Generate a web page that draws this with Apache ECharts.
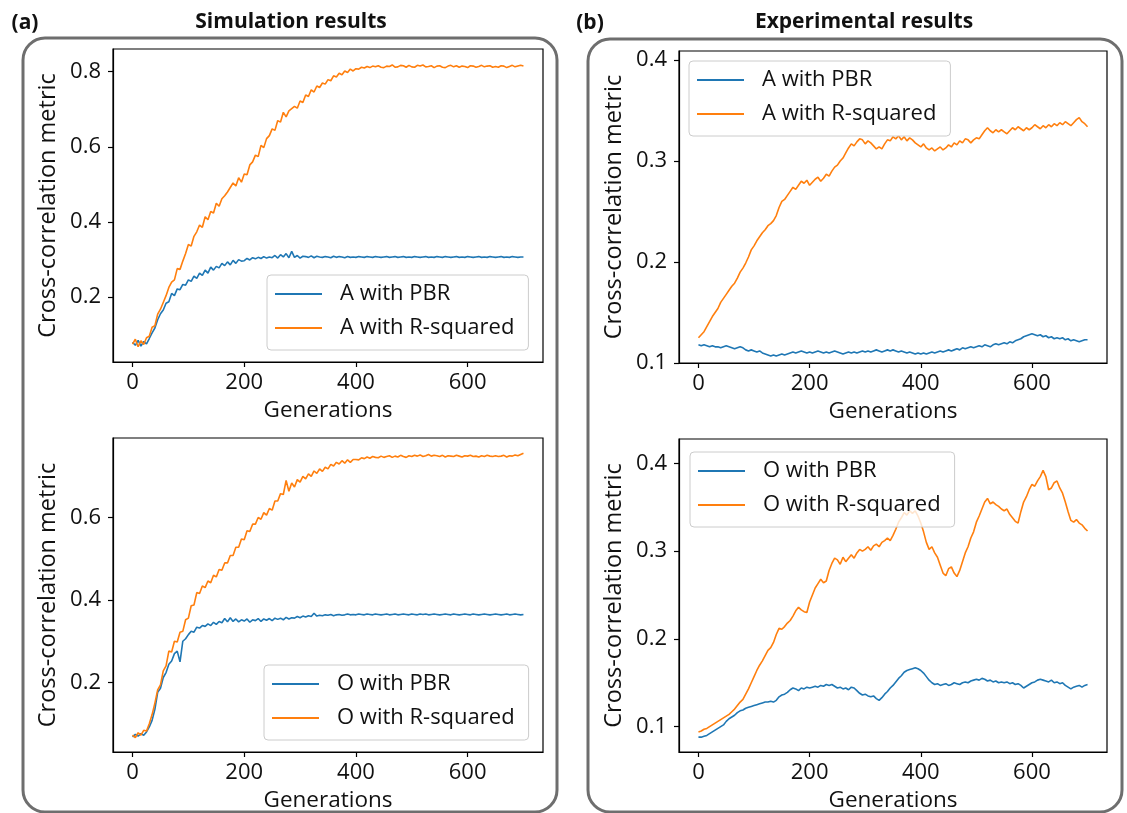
<!DOCTYPE html>
<html>
<head>
<meta charset="utf-8">
<script src="https://cdn.jsdelivr.net/npm/echarts@6/dist/echarts.min.js"></script>
<style>
  html, body { margin: 0; padding: 0; background: #ffffff; }
  #chart { width: 1127px; height: 813px; }
</style>
</head>
<body>
<div id="chart"></div>
<script>
// Generation index shared by every curve (sampled every 5 generations)
const GENERATIONS = [
  0,5,10,15,20,25,30,35,40,45, 50,55,60,65,70,75,80,85,90,95,
  100,105,110,115,120,125,130,135,140,145, 150,155,160,165,170,175,180,185,190,195,
  200,205,210,215,220,225,230,235,240,245, 250,255,260,265,270,275,280,285,290,295,
  300,305,310,315,320,325,330,335,340,345, 350,355,360,365,370,375,380,385,390,395,
  400,405,410,415,420,425,430,435,440,445, 450,455,460,465,470,475,480,485,490,495,
  500,505,510,515,520,525,530,535,540,545, 550,555,560,565,570,575,580,585,590,595,
  600,605,610,615,620,625,630,635,640,645, 650,655,660,665,670,675,680,685,690,695,
  700
];
const X_TICKS = [0, 200, 400, 600];

// (a) Simulation, trait A
const SIM_A_PBR = [
  0.080,0.072,0.085,0.070,0.082,0.076,0.090,0.105,0.118,0.140,
  0.156,0.166,0.184,0.188,0.210,0.204,0.222,0.220,0.234,0.232,
  0.246,0.242,0.256,0.250,0.264,0.258,0.272,0.264,0.280,0.272,
  0.282,0.278,0.290,0.284,0.294,0.286,0.298,0.290,0.300,0.296,
  0.297,0.303,0.299,0.305,0.302,0.306,0.303,0.308,0.304,0.307,
  0.305,0.311,0.304,0.313,0.307,0.316,0.305,0.322,0.306,0.311,
  0.304,0.309,0.308,0.306,0.310,0.305,0.309,0.307,0.306,0.308,
  0.307,0.305,0.309,0.306,0.308,0.307,0.305,0.308,0.306,0.307,
  0.306,0.308,0.307,0.306,0.308,0.307,0.306,0.308,0.307,0.306,
  0.307,0.308,0.306,0.307,0.308,0.306,0.307,0.308,0.306,0.307,
  0.306,0.308,0.307,0.306,0.307,0.308,0.306,0.307,0.306,0.308,
  0.307,0.306,0.308,0.307,0.306,0.307,0.308,0.306,0.307,0.306,
  0.308,0.307,0.306,0.307,0.308,0.306,0.307,0.306,0.308,0.307,
  0.306,0.307,0.308,0.306,0.307,0.306,0.308,0.307,0.306,0.307,
  0.307
];
const SIM_A_RSQ = [
  0.075,0.088,0.068,0.084,0.074,0.092,0.096,0.120,0.124,0.155,
  0.168,0.186,0.204,0.226,0.240,0.246,0.276,0.274,0.296,0.316,
  0.340,0.336,0.362,0.374,0.392,0.386,0.414,0.406,0.428,0.424,
  0.450,0.442,0.462,0.470,0.480,0.492,0.504,0.496,0.518,0.506,
  0.528,0.526,0.552,0.560,0.578,0.574,0.604,0.598,0.622,0.630,
  0.648,0.644,0.670,0.666,0.692,0.680,0.696,0.702,0.708,0.703,
  0.722,0.718,0.738,0.734,0.752,0.746,0.762,0.758,0.770,0.767,
  0.779,0.776,0.789,0.786,0.796,0.792,0.802,0.798,0.807,0.802,
  0.808,0.807,0.812,0.810,0.814,0.811,0.815,0.813,0.816,0.812,
  0.811,0.815,0.814,0.818,0.812,0.813,0.817,0.816,0.812,0.817,
  0.813,0.812,0.817,0.815,0.818,0.813,0.814,0.816,0.811,0.815,
  0.816,0.812,0.811,0.815,0.817,0.813,0.816,0.812,0.815,0.814,
  0.811,0.816,0.815,0.812,0.814,0.817,0.813,0.815,0.816,0.812,
  0.814,0.812,0.816,0.815,0.811,0.814,0.817,0.813,0.815,0.817,
  0.815
];

// (a) Simulation, trait O
const SIM_O_PBR = [
  0.068,0.074,0.070,0.076,0.072,0.080,0.092,0.108,0.135,0.176,
  0.186,0.212,0.224,0.244,0.252,0.270,0.276,0.250,0.300,0.306,
  0.316,0.324,0.322,0.334,0.332,0.338,0.336,0.342,0.338,0.346,
  0.341,0.348,0.345,0.355,0.347,0.357,0.348,0.354,0.347,0.352,
  0.349,0.354,0.346,0.352,0.350,0.355,0.348,0.354,0.351,0.355,
  0.350,0.356,0.353,0.356,0.352,0.358,0.354,0.357,0.356,0.360,
  0.357,0.361,0.359,0.362,0.360,0.368,0.361,0.363,0.362,0.364,
  0.363,0.365,0.362,0.364,0.365,0.363,0.364,0.366,0.364,0.365,
  0.364,0.366,0.365,0.364,0.366,0.365,0.364,0.366,0.365,0.364,
  0.365,0.366,0.364,0.365,0.366,0.364,0.365,0.366,0.365,0.364,
  0.366,0.365,0.364,0.366,0.365,0.366,0.364,0.365,0.366,0.365,
  0.364,0.365,0.366,0.365,0.364,0.366,0.365,0.364,0.365,0.366,
  0.365,0.364,0.366,0.365,0.364,0.365,0.366,0.365,0.364,0.365,
  0.366,0.365,0.364,0.365,0.366,0.364,0.365,0.366,0.365,0.364,
  0.365
];
const SIM_O_RSQ = [
  0.072,0.066,0.078,0.072,0.084,0.082,0.100,0.122,0.150,0.182,
  0.194,0.228,0.240,0.276,0.274,0.300,0.298,0.322,0.324,0.352,
  0.356,0.386,0.388,0.418,0.416,0.434,0.430,0.446,0.442,0.460,
  0.456,0.474,0.472,0.490,0.490,0.508,0.508,0.528,0.528,0.548,
  0.546,0.568,0.566,0.584,0.584,0.600,0.596,0.612,0.606,0.622,
  0.618,0.640,0.640,0.658,0.656,0.690,0.664,0.684,0.674,0.692,
  0.686,0.700,0.694,0.706,0.700,0.713,0.707,0.718,0.712,0.722,
  0.718,0.729,0.725,0.734,0.730,0.738,0.732,0.740,0.734,0.741,
  0.741,0.740,0.745,0.743,0.747,0.744,0.748,0.746,0.745,0.749,
  0.746,0.748,0.750,0.746,0.749,0.747,0.751,0.748,0.746,0.750,
  0.748,0.751,0.749,0.752,0.748,0.750,0.753,0.749,0.751,0.750,
  0.748,0.751,0.747,0.750,0.749,0.748,0.751,0.749,0.747,0.750,
  0.749,0.751,0.748,0.749,0.747,0.750,0.748,0.751,0.749,0.748,
  0.750,0.748,0.749,0.751,0.747,0.750,0.749,0.752,0.750,0.753,
  0.756
];

// (b) Experiment, trait A
const EXP_A_PBR = [
  0.118,0.117,0.118,0.117,0.116,0.117,0.116,0.116,0.115,0.116,
  0.117,0.116,0.115,0.114,0.115,0.116,0.115,0.113,0.112,0.113,
  0.112,0.111,0.112,0.110,0.109,0.108,0.107,0.108,0.107,0.108,
  0.109,0.108,0.109,0.110,0.111,0.110,0.111,0.112,0.111,0.110,
  0.111,0.110,0.111,0.112,0.111,0.110,0.111,0.110,0.111,0.112,
  0.111,0.110,0.109,0.110,0.111,0.110,0.111,0.110,0.111,0.112,
  0.111,0.112,0.111,0.112,0.113,0.112,0.111,0.112,0.113,0.112,
  0.113,0.112,0.111,0.112,0.111,0.110,0.111,0.110,0.109,0.110,
  0.109,0.110,0.109,0.110,0.111,0.110,0.111,0.112,0.111,0.112,
  0.113,0.112,0.113,0.114,0.113,0.115,0.114,0.115,0.116,0.115,
  0.116,0.117,0.116,0.118,0.117,0.116,0.118,0.119,0.118,0.119,
  0.120,0.119,0.121,0.120,0.122,0.123,0.124,0.126,0.127,0.128,
  0.129,0.128,0.127,0.128,0.126,0.127,0.125,0.126,0.124,0.125,
  0.124,0.125,0.123,0.124,0.122,0.123,0.122,0.121,0.122,0.123,
  0.123
];
const EXP_A_RSQ = [
  0.125,0.128,0.131,0.136,0.141,0.146,0.150,0.154,0.160,0.164,
  0.168,0.172,0.176,0.179,0.184,0.190,0.194,0.199,0.205,0.212,
  0.216,0.221,0.225,0.229,0.232,0.236,0.238,0.241,0.246,0.254,
  0.260,0.262,0.266,0.270,0.274,0.272,0.276,0.280,0.278,0.281,
  0.276,0.279,0.282,0.284,0.280,0.283,0.287,0.285,0.290,0.294,
  0.296,0.300,0.303,0.308,0.313,0.317,0.315,0.319,0.322,0.321,
  0.317,0.320,0.318,0.315,0.312,0.314,0.312,0.317,0.321,0.320,
  0.324,0.322,0.325,0.321,0.324,0.320,0.323,0.321,0.318,0.316,
  0.314,0.317,0.313,0.311,0.313,0.310,0.312,0.314,0.311,0.313,
  0.316,0.314,0.318,0.316,0.320,0.318,0.322,0.321,0.318,0.321,
  0.323,0.322,0.326,0.330,0.333,0.330,0.328,0.331,0.329,0.331,
  0.329,0.327,0.330,0.333,0.331,0.334,0.332,0.330,0.333,0.331,
  0.333,0.336,0.334,0.332,0.335,0.333,0.336,0.334,0.337,0.335,
  0.338,0.336,0.339,0.337,0.335,0.338,0.341,0.343,0.339,0.337,
  0.334
];

// (b) Experiment, trait O
const EXP_O_PBR = [
  0.088,0.088,0.089,0.090,0.092,0.094,0.096,0.098,0.100,0.102,
  0.106,0.109,0.111,0.113,0.116,0.118,0.119,0.121,0.122,0.123,
  0.124,0.125,0.126,0.127,0.128,0.128,0.129,0.128,0.130,0.134,
  0.136,0.137,0.139,0.142,0.144,0.143,0.141,0.144,0.143,0.145,
  0.144,0.145,0.146,0.145,0.147,0.146,0.148,0.147,0.148,0.146,
  0.144,0.145,0.143,0.144,0.142,0.145,0.144,0.141,0.138,0.136,
  0.137,0.135,0.134,0.135,0.132,0.130,0.133,0.137,0.140,0.144,
  0.147,0.151,0.155,0.158,0.162,0.164,0.165,0.166,0.167,0.166,
  0.164,0.161,0.157,0.153,0.150,0.148,0.149,0.147,0.148,0.149,
  0.147,0.148,0.150,0.149,0.148,0.150,0.151,0.150,0.152,0.153,
  0.154,0.153,0.155,0.154,0.152,0.153,0.151,0.152,0.150,0.151,
  0.150,0.151,0.149,0.150,0.148,0.149,0.147,0.144,0.146,0.148,
  0.150,0.151,0.153,0.154,0.153,0.152,0.151,0.153,0.150,0.151,
  0.149,0.150,0.147,0.145,0.143,0.145,0.146,0.147,0.145,0.147,
  0.148
];
const EXP_O_RSQ = [
  0.094,0.095,0.097,0.098,0.100,0.102,0.104,0.106,0.108,0.110,
  0.112,0.114,0.117,0.120,0.124,0.128,0.131,0.137,0.143,0.150,
  0.157,0.164,0.170,0.175,0.181,0.187,0.190,0.196,0.205,0.212,
  0.211,0.214,0.218,0.221,0.226,0.232,0.236,0.233,0.231,0.230,
  0.242,0.250,0.258,0.263,0.268,0.264,0.266,0.278,0.286,0.292,
  0.290,0.285,0.293,0.288,0.292,0.296,0.292,0.298,0.302,0.300,
  0.302,0.305,0.301,0.306,0.308,0.305,0.310,0.312,0.315,0.312,
  0.318,0.325,0.333,0.338,0.344,0.341,0.346,0.343,0.346,0.340,
  0.332,0.322,0.310,0.302,0.305,0.298,0.293,0.284,0.275,0.272,
  0.280,0.282,0.275,0.271,0.278,0.288,0.298,0.305,0.315,0.322,
  0.333,0.340,0.348,0.356,0.360,0.354,0.356,0.353,0.351,0.348,
  0.346,0.348,0.342,0.338,0.334,0.332,0.345,0.356,0.362,0.370,
  0.376,0.374,0.380,0.385,0.392,0.385,0.370,0.372,0.378,0.380,
  0.372,0.366,0.356,0.345,0.335,0.333,0.336,0.332,0.330,0.326,
  0.323
];

const Y_TICKS_SIM_A = [0.2, 0.4, 0.6, 0.8];
const Y_TICKS_SIM_O = [0.2, 0.4, 0.6];
const Y_TICKS_EXP = [0.1, 0.2, 0.3, 0.4];

const LEGEND_A = ['A with PBR', 'A with R-squared'];
const LEGEND_O = ['O with PBR', 'O with R-squared'];

const BLUE = '#1f77b4';
const ORANGE = '#ff7f0e';
const FONT = 'Open Sans';
const INK = '#111111';

const pairs = values => GENERATIONS.map((g, i) => [g, values[i]]);

const panels = [
  { left: 113, top: 49,  width: 430, height: 313, yMin: 0.0275, yMax: 0.8605, yTicks: Y_TICKS_SIM_A,
    names: LEGEND_A, blue: SIM_A_PBR, orange: SIM_A_RSQ, legend: { left: 267, top: 275 } },
  { left: 679, top: 51,  width: 428, height: 312, yMin: 0.1, yMax: 0.409, yTicks: Y_TICKS_EXP,
    names: LEGEND_A, blue: EXP_A_PBR, orange: EXP_A_RSQ, legend: { left: 689, top: 61 } },
  { left: 113, top: 438, width: 430, height: 314, yMin: 0.0313, yMax: 0.793, yTicks: Y_TICKS_SIM_O,
    names: LEGEND_O, blue: SIM_O_PBR, orange: SIM_O_RSQ, legend: { left: 264, top: 665 } },
  { left: 679, top: 439, width: 428, height: 313, yMin: 0.0711, yMax: 0.4278, yTicks: Y_TICKS_EXP,
    names: LEGEND_O, blue: EXP_O_PBR, orange: EXP_O_RSQ, legend: { left: 690, top: 452 } }
];

const tickText = { color: INK, fontFamily: FONT, fontSize: 22 };

const grid = [], xAxis = [], yAxis = [], series = [], legend = [];
panels.forEach((p, i) => {
  grid.push({ left: p.left, top: p.top, width: p.width, height: p.height,
    show: true, borderColor: '#000', borderWidth: 1.2, backgroundColor: 'transparent' });
  xAxis.push({
    type: 'value', gridIndex: i, min: -35, max: 735,
    name: 'Generations', nameLocation: 'middle', nameGap: 37,
    nameTextStyle: { color: INK, fontFamily: FONT, fontSize: 22.5 },
    axisLine: { show: true, onZero: false, lineStyle: { color: '#000', width: 1.2 } },
    axisTick: { show: true, length: 5, customValues: X_TICKS, lineStyle: { color: '#000', width: 1.2 } },
    axisLabel: { customValues: X_TICKS, margin: 10, ...tickText, formatter: v => String(v) },
    splitLine: { show: false }
  });
  yAxis.push({
    type: 'value', gridIndex: i, min: p.yMin, max: p.yMax,
    name: 'Cross-correlation metric', nameLocation: 'middle', nameGap: 53,
    nameTextStyle: { color: INK, fontFamily: FONT, fontSize: 23.5 },
    axisLine: { show: true, onZero: false, lineStyle: { color: '#000', width: 1.2 } },
    axisTick: { show: true, length: 5, customValues: p.yTicks, lineStyle: { color: '#000', width: 1.2 } },
    axisLabel: { customValues: p.yTicks, margin: 12, ...tickText, formatter: v => v.toFixed(1) },
    splitLine: { show: false }
  });
  series.push({
    type: 'line', name: p.names[0], xAxisIndex: i, yAxisIndex: i, data: pairs(p.blue),
    showSymbol: false, color: BLUE, lineStyle: { color: BLUE, width: 1.6 }, z: 2
  });
  series.push({
    type: 'line', name: p.names[1], xAxisIndex: i, yAxisIndex: i, data: pairs(p.orange),
    showSymbol: false, color: ORANGE, lineStyle: { color: ORANGE, width: 1.6 }, z: 3
  });
  legend.push({
    data: p.names, orient: 'vertical', left: p.legend.left, top: p.legend.top,
    selectedMode: false, icon: 'rect', itemWidth: 47, itemHeight: 2, itemGap: 8,
    padding: [6, 14, 9, 8],
    backgroundColor: 'rgba(255,255,255,0.8)', borderColor: '#cccccc', borderWidth: 1, borderRadius: 4,
    textStyle: { color: INK, fontFamily: FONT, fontSize: 22, lineHeight: 26, padding: [0, 0, 0, 13] }
  });
});

const frameStyle = { fill: 'none', stroke: '#6e6e6e', lineWidth: 3 };
const headStyle = { fill: INK, font: 'bold 21px "Open Sans"', textAlign: 'center', textVerticalAlign: 'middle' };

const chart = echarts.init(document.getElementById('chart'), null, { renderer: 'canvas' });
chart.setOption({
  animation: false,
  backgroundColor: '#ffffff',
  grid, xAxis, yAxis, series, legend,
  graphic: [
    { type: 'rect', shape: { x: 23, y: 38, width: 534, height: 774, r: 22 }, style: frameStyle, z: 0, silent: true },
    { type: 'rect', shape: { x: 588, y: 39, width: 534, height: 773, r: 22 }, style: frameStyle, z: 0, silent: true },
    { type: 'text', x: 25, y: 23, style: { text: '(a)', ...headStyle } },
    { type: 'text', x: 291, y: 22, style: { text: 'Simulation results', ...headStyle } },
    { type: 'text', x: 590, y: 23, style: { text: '(b)', ...headStyle } },
    { type: 'text', x: 864, y: 22, style: { text: 'Experimental results', ...headStyle } }
  ]
});
</script>
</body>
</html>
